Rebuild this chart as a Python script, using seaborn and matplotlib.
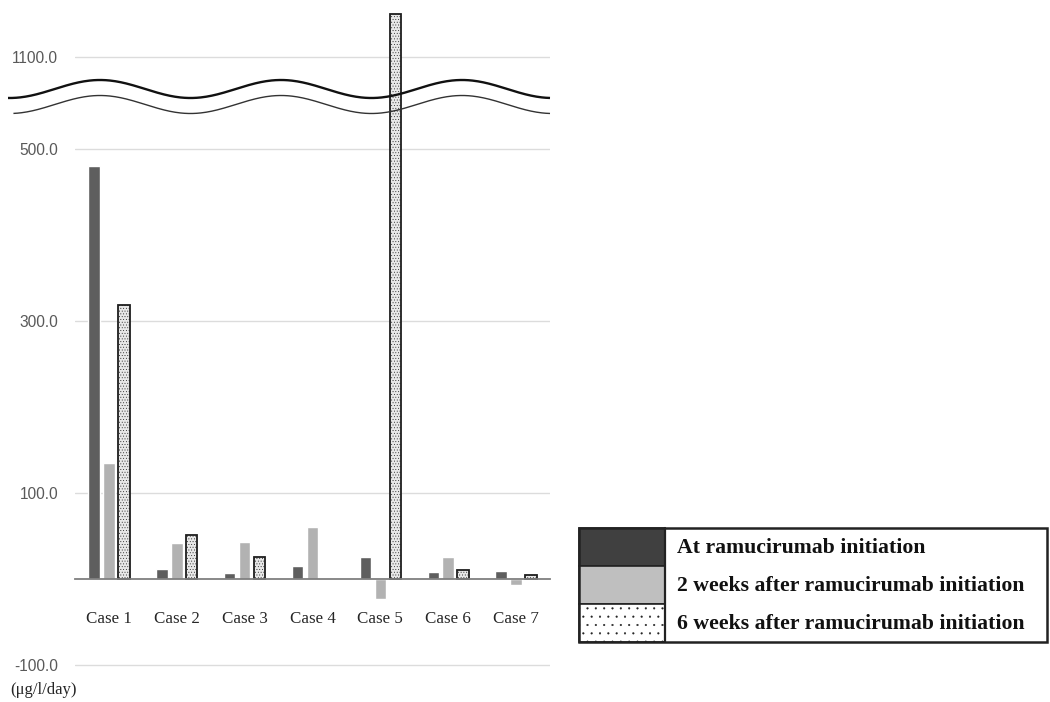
import numpy as np
import pandas as pd
import seaborn as sns
import matplotlib.pyplot as plt
from matplotlib.patches import Rectangle

# values (ug/l/day)
cases = ["Case 1", "Case 2", "Case 3", "Case 4", "Case 5", "Case 6", "Case 7"]
periods = ["At ramucirumab initiation",
           "2 weeks after ramucirumab initiation",
           "6 weeks after ramucirumab initiation"]
at_start = [481, 12, 7, 16, 26.5, 9, 10]
week2 = [135, 42, 44, 61, -23, 26, -6]
week6 = [319, 52, 26.5, np.nan, 1150, 11, 5]

bar_colors = ["#5e5e5e", "#b2b2b2", "#e8e8e8"]
legend_colors = ["#404040", "#bfbfbf", "white"]
yticks_low = [-100, 100, 300, 500]
yticks_high = [1100]

df = pd.DataFrame({"case": cases * 3,
                   "period": np.repeat(periods, len(cases)),
                   "value": at_start + week2 + week6})

sns.set_style("white")
plt.rcParams["hatch.linewidth"] = 0.3
W, H = 1050, 702
fig = plt.figure(figsize=(W / 100, H / 100), dpi=100)


def box(x0, y0, x1, y1):
    # pixel box (top-left origin) -> figure fraction
    return [x0 / W, 1 - y1 / H, (x1 - x0) / W, (y1 - y0) / H]


ax_hi = fig.add_axes(box(75, 2, 550, 96))
ax_lo = fig.add_axes(box(75, 96, 550, 672))

for ax in (ax_hi, ax_lo):
    sns.barplot(data=df, x="case", y="value", hue="period", order=cases,
                hue_order=periods, palette=bar_colors, width=0.66, gap=0.23,
                legend=False, ax=ax, zorder=3)
    for p in ax.containers[2]:
        p.set_hatch("......")
        p.set_edgecolor("#1e1e1e")
        p.set_linewidth(1.3)
    for s in ax.spines.values():
        s.set_visible(False)
    ax.set_xlabel("")
    ax.set_ylabel("")
    ax.set_xlim(-0.5, 6.5)
    ax.grid(axis="y", color="#dcdcdc", linewidth=1, zorder=0)
    ax.tick_params(axis="y", length=0, pad=12)

ax_hi.set_ylim(1054.3, 1163.6)
ax_hi.set_yticks(yticks_high)
ax_hi.set_yticklabels([f"{v:.1f}" for v in yticks_high], family="Liberation Sans",
                      color="#595959", fontsize=11.2)
ax_hi.set_xticks([])

ax_lo.set_ylim(-107.6, 562.2)
ax_lo.set_yticks(yticks_low)
ax_lo.set_yticklabels([f"{v:.1f}" for v in yticks_low], family="Liberation Sans",
                      color="#595959", fontsize=11.2)
ax_lo.spines["bottom"].set_visible(True)
ax_lo.spines["bottom"].set_position(("data", 0))
ax_lo.spines["bottom"].set_color("#7f7f7f")
ax_lo.spines["bottom"].set_linewidth(1.3)
ax_lo.spines["bottom"].set_zorder(4)
ax_lo.tick_params(axis="x", length=0, pad=22.5)
ax_lo.set_xticks(range(len(cases)))
ax_lo.set_xticklabels(cases, family="Liberation Serif", fontsize=12.2, color="#262626")

# overlay for break marks, unit label and the legend box
ov = fig.add_axes([0, 0, 1, 1], zorder=10)
ov.set_xlim(0, W)
ov.set_ylim(H, 0)
ov.axis("off")
ov.patch.set_alpha(0)

xs = np.linspace(8, 550, 400)
wave = 89 - 9 * np.cos(2 * np.pi * (xs - 100) / 181)
ov.plot(xs, wave, color="#111111", lw=1.7, solid_capstyle="butt")
xs2 = xs[xs > 13]
ov.plot(xs2, 104.5 - 9 * np.cos(2 * np.pi * (xs2 - 100) / 181),
        color="#333333", lw=1.0, solid_capstyle="butt")

ov.text(10, 690, "(\u03bcg/l/day)", family="Liberation Serif", fontsize=12,
        color="#262626", va="center", ha="left")

# legend drawn as a boxed table
lx0, lx1, ly0, ly1, sw = 579, 1047, 528, 642, 665
rows = np.linspace(ly0, ly1, 4)
for i, (lab, c) in enumerate(zip(periods, legend_colors)):
    r = Rectangle((lx0, rows[i]), sw - lx0, rows[i + 1] - rows[i],
                  facecolor=c, edgecolor="#222222", lw=1.2)
    if i == 2:
        r.set_hatch("..")
    ov.add_patch(r)
    ov.text(sw + 12, (rows[i] + rows[i + 1]) / 2 + 1, lab, family="Liberation Serif",
            fontweight="bold", fontsize=15.7, color="#111111", va="center", ha="left")
ov.add_patch(Rectangle((lx0, ly0), lx1 - lx0, ly1 - ly0, fill=False,
                       edgecolor="#222222", lw=1.8))
ov.plot([sw, sw], [ly0, ly1], color="#222222", lw=1.6)

plt.savefig("out.png", dpi=100)
